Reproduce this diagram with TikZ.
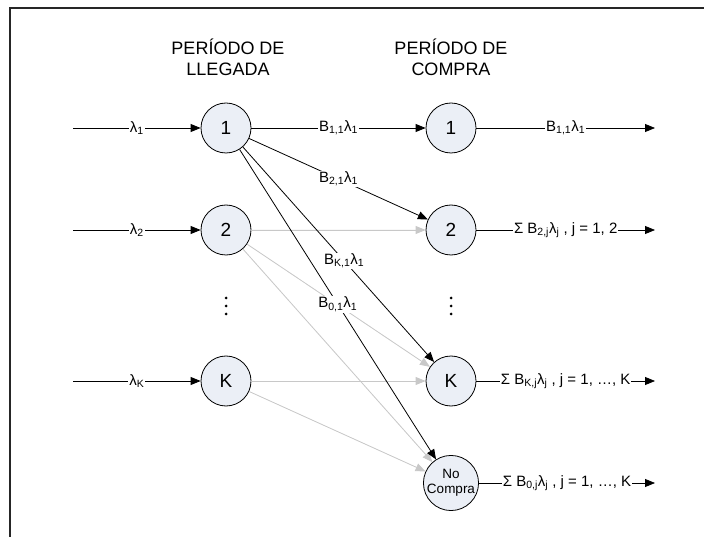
\documentclass[tikz,border=0pt]{standalone}
\usepackage{fontspec}
\setmainfont{Liberation Sans}
\usetikzlibrary{arrows.meta}
\definecolor{nodefill}{RGB}{235,239,246}
\definecolor{lightln}{RGB}{200,200,200}
\begin{document}
\begin{tikzpicture}[x=1pt,y=-1pt,
  state/.style={circle,draw,line width=0.8pt,fill=nodefill,minimum size=50pt,inner sep=0pt,font=\fontsize{19}{21}\selectfont},
  head/.style={align=center,font=\fontsize{18}{21}\selectfont},
  lbl/.style={fill=white,inner sep=1pt,font=\fontsize{15}{17}\selectfont},
  arr/.style={-{Triangle[length=10pt,width=8pt]},line width=0.8pt},
  garr/.style={arr,draw=lightln,fill=lightln},
  dotn/.style={circle,fill=black,minimum size=3pt,inner sep=0pt}
]
\useasboundingbox (0,0) rectangle (704,537);
% frame
\coordinate (fa) at (10,537);
\coordinate (fb) at (10,8);
\coordinate (fc) at (704,8);
\draw[line width=1.5pt,black!85] (fa) -- (fb) -- (fc);

% headers
\node[head] (h1) at (228,57) {PERÍODO DE\\LLEGADA};
\node[head] (h2) at (451,57) {PERÍODO DE\\COMPRA};

% nodes
\node[state] (L1) at (226,128) {1};
\node[state] (L2) at (226,230) {2};
\node[state] (LK) at (226,381) {K};
\node[state] (R1) at (451,128) {1};
\node[state] (R2) at (451,230) {2};
\node[state] (RK) at (451,381) {K};
\node[state,font=\fontsize{13.5}{15}\selectfont,align=center] (R0) at (451,483) {No\\Compra};

% dots
\foreach \y/\n in {298/a,306/b,314/c}{
  \node[dotn] (dl\n) at (226,\y) {};
  \node[dotn] (dr\n) at (451,\y) {};
}

% input coordinates
\coordinate (i1) at (73,128);
\coordinate (i2) at (73,230);
\coordinate (iK) at (73,381);
% output coordinates
\coordinate (o1) at (655,128);
\coordinate (o2) at (655,230);
\coordinate (oK) at (655,381);
\coordinate (o0) at (655,483);

% inputs
\draw[arr] (i1) -- node[lbl]{λ\textsubscript{1}} (L1);
\draw[arr] (i2) -- node[lbl]{λ\textsubscript{2}} (L2);
\draw[arr] (iK) -- node[lbl]{λ\textsubscript{K}} (LK);

% gray connectors
\draw[garr] (L2) -- (R2);
\draw[garr] (L2) -- (RK);
\draw[garr] (L2) -- (R0);
\draw[garr] (LK) -- (RK);
\draw[garr] (LK) -- (R0);

% black connectors from 1
\draw[arr] (L1) -- node[lbl]{B\textsubscript{1,1}λ\textsubscript{1}} (R1);
\draw[arr] (L1) -- node[lbl]{B\textsubscript{2,1}λ\textsubscript{1}} (R2);
\draw[arr] (L1) -- node[lbl,pos=0.53]{B\textsubscript{K,1}λ\textsubscript{1}} (RK);
\draw[arr] (L1) -- node[lbl]{B\textsubscript{0,1}λ\textsubscript{1}} (R0);

% outputs
\draw[arr] (R1) -- node[lbl]{B\textsubscript{1,1}λ\textsubscript{1}} (o1);
\draw[arr] (R2) -- node[lbl]{Σ B\textsubscript{2,j}λ\textsubscript{j} , j = 1, 2} (o2);
\draw[arr] (RK) -- node[lbl]{Σ B\textsubscript{K,j}λ\textsubscript{j} , j = 1, …, K} (oK);
\draw[arr] (R0) -- node[lbl]{Σ B\textsubscript{0,j}λ\textsubscript{j} , j = 1, …, K} (o0);
\end{tikzpicture}
\end{document}
